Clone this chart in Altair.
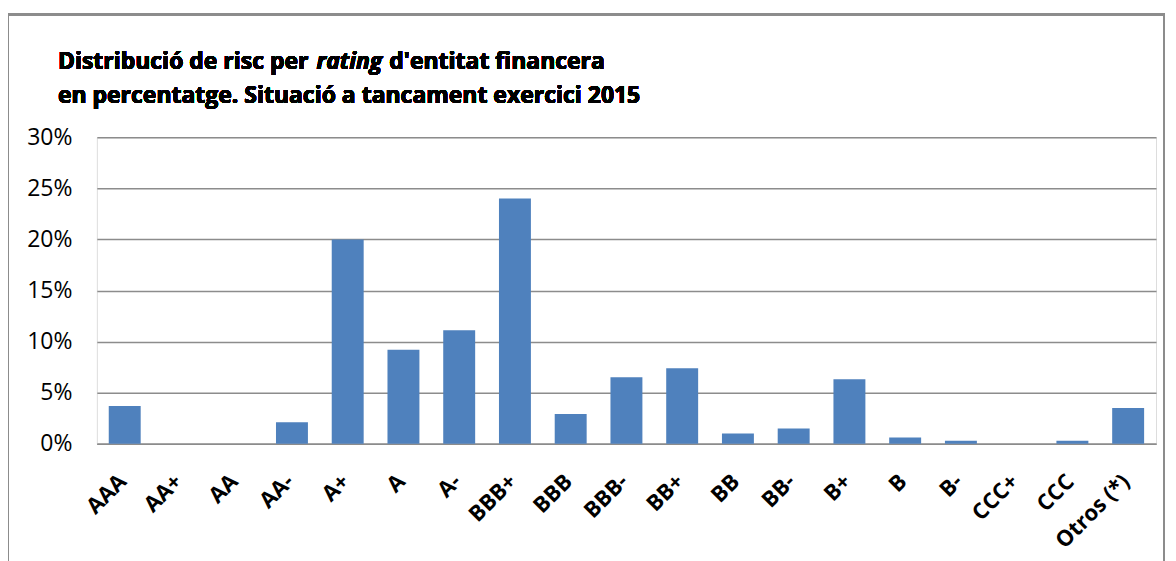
import altair as alt
import pandas as pd

ratings = ["AAA", "AA+", "AA", "AA-", "A+", "A", "A-", "BBB+", "BBB", "BBB-",
           "BB+", "BB", "BB-", "B+", "B", "B-", "CCC+", "CCC", "Otros (*)"]
values = [3.7, 0.0, 0.0, 2.1, 20.0, 9.2, 11.1, 24.0, 2.9, 6.5,
          7.4, 1.0, 1.5, 6.3, 0.6, 0.3, 0.0, 0.3, 3.5]
title_line1 = ["Distribució de risc per", "rating", "d'entitat financera"]
title_line2 = "en percentatge. Situació a tancament exercici 2015"

df = pd.DataFrame({"rating": ratings, "pct": [v / 100 for v in values]})

FONT = "Open Sans"

bars = alt.Chart(df).mark_bar(color="#4F81BD").encode(
    x=alt.X("rating:N", sort=ratings, title=None,
            scale=alt.Scale(paddingInner=0.427, paddingOuter=0.2135),
            axis=alt.Axis(labelAngle=-45, labelAlign="right", labelBaseline="middle",
                          labelFont=FONT, labelFontSize=22, labelFontWeight="bold",
                          labelColor="#000000", labelPadding=34, labelOffset=-2,
                          ticks=False, domainColor="#8c8c8c", domainWidth=1.5,
                          grid=False)),
    y=alt.Y("pct:Q", title=None,
            scale=alt.Scale(domain=[0, 0.30]),
            axis=alt.Axis(values=[0, 0.05, 0.10, 0.15, 0.20, 0.25, 0.30], format=".0%",
                          labelFont=FONT, labelFontSize=23, labelColor="#000000",
                          labelPadding=25, ticks=False, domain=False,
                          gridColor="#8c8c8c", gridWidth=1.5)),
)

frame = alt.Chart(df).mark_rect(fill=None, stroke="#8c8c8c", strokeWidth=1.5).encode(
    x=alt.value(-89), x2=alt.value(1069), y=alt.value(-123), y2=alt.value(480)
)

def title_text(txt, x, y, italic=False):
    return alt.Chart(df).mark_text(
        text=txt, align="left", baseline="alphabetic", font=FONT, fontSize=23,
        fontWeight="bold", fontStyle="italic" if italic else "normal", color="#000000"
    ).encode(x=alt.value(x), y=alt.value(y))

t1 = title_text(title_line1[0], -39, -68)
t2 = title_text(title_line1[1], 220, -68, italic=True)
t3 = title_text(title_line1[2], 293, -68)
t4 = title_text(title_line2, -39, -34)

chart = alt.layer(frame, bars, t1, t2, t3, t4).properties(
    width=1061, height=307,
    padding={"left": 89, "top": 129, "right": 12, "bottom": 120},
    autosize=alt.AutoSizeParams(type="none"),
).configure_view(stroke=None).configure(background="white")

chart.save("out.html", embed_options={"renderer": "svg", "actions": False})
